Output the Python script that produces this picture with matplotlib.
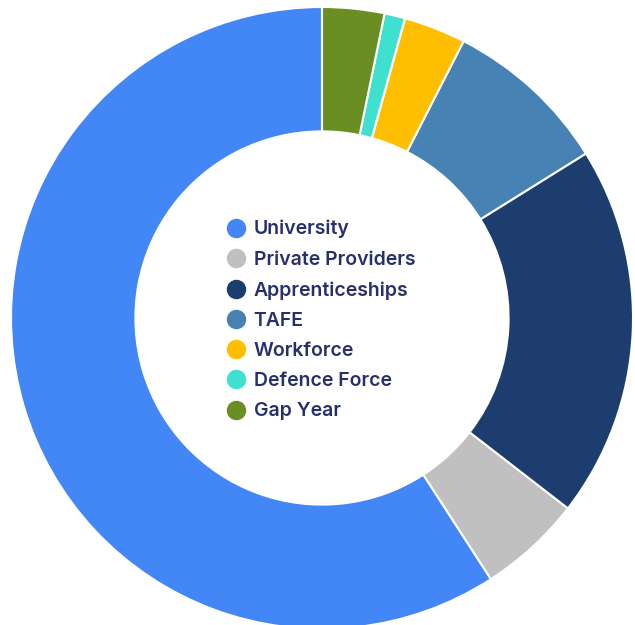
import matplotlib
matplotlib.use('Agg')
import matplotlib.pyplot as plt
from matplotlib.lines import Line2D

plt.rcParams['font.family'] = ['Inter', 'DejaVu Sans']

# pathways after school, drawn counter-clockwise from 12 o'clock
labels = ['University', 'Private Providers', 'Apprenticeships', 'TAFE',
          'Workforce', 'Defence Force', 'Gap Year']
counts = [55, 5, 18, 8, 3, 1, 3]
colours = ['#4287f5', '#c0c0c0', '#1c3d6e', '#4682b4',
           '#ffbf00', '#40e0d0', '#6b8e23']

fig = plt.figure(figsize=(6.35, 6.25), dpi=100)
ax = fig.add_axes([0, 0, 1, 1])

ax.pie(counts, colors=colours, startangle=90, counterclock=True,
       radius=1.0, wedgeprops=dict(width=0.4, edgecolor='white', linewidth=1.5))

# pixel scale: centre at (322, 318), outer radius 311 px
r = 311.0
ax.set_xlim(-322 / r, (635 - 322) / r)
ax.set_ylim(-(625 - 318) / r, 318 / r)
ax.set_aspect('auto')
ax.axis('off')

handles = [Line2D([], [], marker='o', linestyle='none', markersize=13,
                  markerfacecolor=c, markeredgecolor=c) for c in colours]
leg = ax.legend(handles, labels, loc='upper left',
                bbox_to_anchor=(226.5 / 635, 1 - 220 / 625),
                frameon=False, fontsize=14, labelspacing=0.63,
                handletextpad=0.42, borderpad=0, borderaxespad=0,
                handlelength=0.97)
for t in leg.get_texts():
    t.set_color('#27306b')
    t.set_fontweight('semibold')

fig.savefig('out.png', dpi=100)
